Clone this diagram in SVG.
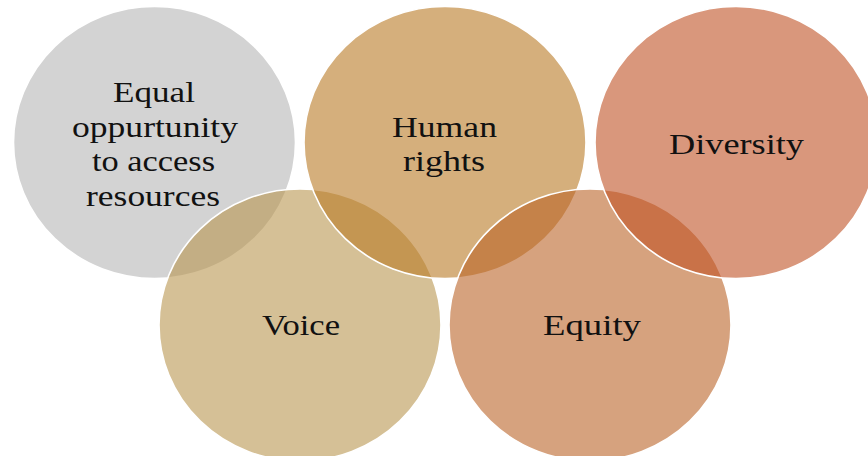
<svg xmlns="http://www.w3.org/2000/svg" width="868" height="456" viewBox="0 0 868 456">
<style>
.c{stroke:#ffffff;stroke-width:1.6;fill-opacity:0.6}
.t{font-family:"Liberation Serif","DejaVu Serif",serif;font-size:30px;fill:#111;text-anchor:middle}
</style>
<rect width="868" height="456" fill="#ffffff"/>
<g id="connectors"/>
<g id="node-equal">
<ellipse class="c" cx="154.5" cy="142.5" rx="141" ry="136" fill="#b6b6b6"/>
<text class="t" x="154" y="102" textLength="82" lengthAdjust="spacingAndGlyphs">Equal</text>
<text class="t" x="155" y="137" textLength="166" lengthAdjust="spacingAndGlyphs">oppurtunity</text>
<text class="t" x="153.5" y="171" textLength="123" lengthAdjust="spacingAndGlyphs">to access</text>
<text class="t" x="153" y="206" textLength="134" lengthAdjust="spacingAndGlyphs">resources</text>
</g>
<g id="node-voice">
<ellipse class="c" cx="300" cy="325" rx="141" ry="136" fill="#b99650"/>
<text class="t" x="301" y="335" textLength="78" lengthAdjust="spacingAndGlyphs">Voice</text>
</g>
<g id="node-human">
<ellipse class="c" cx="445" cy="142.5" rx="141" ry="136" fill="#b97a25"/>
<text class="t" x="444.5" y="137" textLength="105" lengthAdjust="spacingAndGlyphs">Human</text>
<text class="t" x="444" y="171" textLength="82" lengthAdjust="spacingAndGlyphs">rights</text>
</g>
<g id="node-equity">
<ellipse class="c" cx="590" cy="325" rx="141" ry="136" fill="#bb6428"/>
<text class="t" x="592" y="335" textLength="98" lengthAdjust="spacingAndGlyphs">Equity</text>
</g>
<g id="node-diversity">
<ellipse class="c" cx="736" cy="142.5" rx="141" ry="136" fill="#c05225"/>
<text class="t" x="736.5" y="154" textLength="135" lengthAdjust="spacingAndGlyphs">Diversity</text>
</g>
</svg>
